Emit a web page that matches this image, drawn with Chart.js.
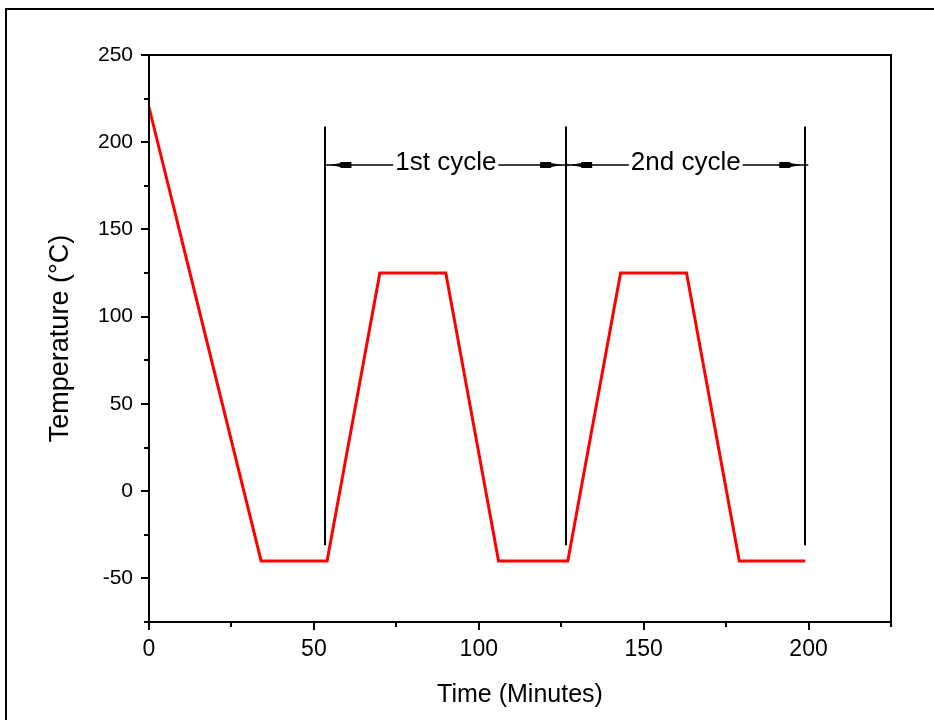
<!DOCTYPE html>
<html lang="en">
<head>
    <meta charset="UTF-8">
    <title>Temperature Cycles</title>
    <style>
        html, body { margin: 0; padding: 0; background: #fff; }
        body { width: 934px; height: 720px; overflow: hidden; position: relative; }
        #frame {
            position: absolute; left: 5px; top: 8px;
            width: 1000px; height: 800px;
            border-left: 2px solid #000; border-top: 2px solid #000;
        }
        #wrap { position: absolute; left: 0; top: 0; width: 934px; height: 720px; }
    </style>
    <script src="https://cdn.jsdelivr.net/npm/chart.js"></script>
</head>
<body>
    <div id="frame"></div>
    <div id="wrap"><canvas id="chart" width="934" height="720"></canvas></div>

    <script>
        // profile of the thermal cycling run
        const timeMin = [0, 34, 54, 70, 90, 106, 127, 143, 163, 179, 199];
        const tempC = [220, -40, -40, 125, 125, -40, -40, 125, 125, -40, -40];

        // cycle markers (vertical lines) and dimension arrows
        const cycleBounds = [53.5, 126.5, 199];
        const cycleLabels = ['1st cycle', '2nd cycle'];
        const markerTop = 209;
        const markerBottom = -31;
        const arrowLevel = 187;

        const xTicks = [0, 50, 100, 150, 200];
        const yTicks = [-50, 0, 50, 100, 150, 200, 250];

        const FONT = '"Liberation Sans", Arial, sans-serif';

        function arrowHead(ctx, xEdge, yPix, dir) {
            ctx.beginPath();
            ctx.moveTo(xEdge + dir * 4, yPix);
            ctx.lineTo(xEdge + dir * 15, yPix - 2);
            ctx.lineTo(xEdge + dir * 15, yPix - 3);
            ctx.lineTo(xEdge + dir * 26, yPix - 3);
            ctx.lineTo(xEdge + dir * 26, yPix + 3);
            ctx.lineTo(xEdge + dir * 15, yPix + 3);
            ctx.lineTo(xEdge + dir * 15, yPix + 2);
            ctx.closePath();
            ctx.fill();
        }

        const framePlugin = {
            id: 'framePlugin',
            afterDatasetsDraw(chart) {
                const { ctx, chartArea: a, scales: { x, y } } = chart;
                ctx.save();
                ctx.strokeStyle = '#000';
                ctx.fillStyle = '#000';
                ctx.lineWidth = 2;
                ctx.strokeRect(a.left, a.top, a.right - a.left, a.bottom - a.top);

                // major + minor ticks, outward
                for (let v = -75; v <= 250; v += 25) {
                    const py = Math.round(y.getPixelForValue(v));
                    const len = v % 50 === 0 ? 8 : 5;
                    ctx.beginPath();
                    ctx.moveTo(a.left, py);
                    ctx.lineTo(a.left - len, py);
                    ctx.stroke();
                }
                for (let v = 0; v <= 225; v += 25) {
                    const px = Math.round(x.getPixelForValue(v));
                    const len = v % 50 === 0 ? 8 : 5;
                    ctx.beginPath();
                    ctx.moveTo(px, a.bottom);
                    ctx.lineTo(px, a.bottom + len);
                    ctx.stroke();
                }

                // cycle marker lines
                const yTop = y.getPixelForValue(markerTop);
                const yBot = y.getPixelForValue(markerBottom);
                cycleBounds.forEach(b => {
                    const px = Math.round(x.getPixelForValue(b));
                    ctx.beginPath();
                    ctx.moveTo(px, yTop);
                    ctx.lineTo(px, yBot);
                    ctx.stroke();
                });

                // dimension arrows with labels
                const ay = Math.round(y.getPixelForValue(arrowLevel));
                ctx.font = '26px ' + FONT;
                ctx.textAlign = 'center';
                ctx.textBaseline = 'middle';
                ctx.lineWidth = 1.5;
                for (let i = 0; i < cycleLabels.length; i++) {
                    const x0 = x.getPixelForValue(cycleBounds[i]);
                    const x1 = x.getPixelForValue(cycleBounds[i + 1]);
                    const xc = (x0 + x1) / 2;
                    const w = ctx.measureText(cycleLabels[i]).width;
                    ctx.beginPath();
                    ctx.moveTo(x0, ay);
                    ctx.lineTo(xc - w / 2 - 2, ay);
                    ctx.moveTo(xc + w / 2 + 2, ay);
                    ctx.lineTo(x1 + 3, ay);
                    ctx.stroke();
                    arrowHead(ctx, x0, ay, 1);
                    arrowHead(ctx, x1, ay, -1);
                    ctx.fillText(cycleLabels[i], xc, ay - 2);
                }
                ctx.restore();
            }
        };

        new Chart(document.getElementById('chart'), {
            type: 'line',
            data: {
                datasets: [{
                    data: timeMin.map((t, i) => ({ x: t, y: tempC[i] })),
                    borderColor: '#ff0000',
                    borderWidth: 3,
                    pointRadius: 0,
                    fill: false,
                    tension: 0
                }]
            },
            options: {
                responsive: false,
                animation: false,
                plugins: { legend: { display: false }, tooltip: { enabled: false } },
                layout: { padding: { top: 55, right: 43, left: 0, bottom: 0 } },
                scales: {
                    x: {
                        type: 'linear',
                        min: 0, max: 225,
                        grid: { display: false, drawTicks: false },
                        border: { display: false },
                        ticks: {
                            stepSize: 50,
                            padding: 14,
                            maxRotation: 0,
                            color: '#000',
                            font: { family: FONT, size: 23 },
                            callback: v => xTicks.includes(v) ? v : ''
                        },
                        title: {
                            display: true, text: 'Time (Minutes)', color: '#000',
                            font: { family: FONT, size: 25 },
                            padding: { top: 0, bottom: 10 }
                        },
                        afterFit(s) { s.height = 98; }
                    },
                    y: {
                        min: -75, max: 250,
                        grid: { display: false, drawTicks: false },
                        border: { display: false },
                        ticks: {
                            stepSize: 50,
                            padding: 16,
                            color: '#000',
                            font: { family: FONT, size: 21 },
                            callback: v => yTicks.includes(v) ? v : ''
                        },
                        title: {
                            display: true, text: 'Temperature (°C)', color: '#000',
                            font: { family: FONT, size: 27 },
                            padding: { top: 44, bottom: 0 }
                        },
                        afterFit(s) { s.width = 149; }
                    }
                }
            },
            plugins: [framePlugin]
        });
    </script>
</body>
</html>
